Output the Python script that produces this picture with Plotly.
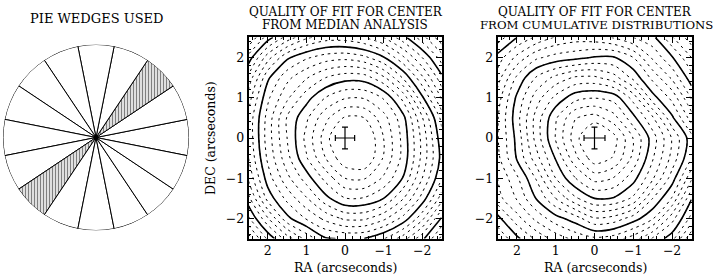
import plotly.graph_objects as go

# ---------------- data ----------------
# pie wedges (centre angle in degrees, counter-clockwise from east)
wedge_angles = [0, 22.5, 45, 67.5, 90, 112.5, 135, 157.5,
                180, 202.5, 225, 247.5, 270, 292.5, 315, 337.5]
wedge_used = [0, 0, 1, 0, 0, 0, 0, 0, 0, 0, 1, 0, 0, 0, 0, 0]
wedge_width = 22.5

# contour grids (RA runs left->right on the page, i.e. decreasing)
ra = [2.5, 2.0, 1.5, 1.0, 0.5, 0.0, -0.5, -1.0, -1.5, -2.0, -2.5]
dec = [-2.5, -2.0, -1.5, -1.0, -0.5, 0.0, 0.5, 1.0, 1.5, 2.0, 2.5]

z_median = [
    [18.5, 15.8, 13.5, 11.7, 10.1, 9.9, 10.0, 10.9, 12.5, 14.7, 17.3],
    [16.2, 13.1, 10.3, 8.9, 7.7, 6.8, 6.8, 7.75, 9.3, 11.7, 15.1],
    [14.3, 10.6, 8.7, 7.1, 5.3, 4.05, 4.1, 5.0, 6.9, 9.4, 12.5],
    [12.8, 9.5, 7.3, 5.5, 3.65, 2.0, 1.9, 3.15, 5.05, 8.0, 10.9],
    [12.0, 8.8, 6.35, 4.1, 2.0, 0.2, -0.04, 2.1, 4.3, 7.3, 10.3],
    [11.7, 8.5, 6.0, 3.7, 1.45, -0.85, -0.2, 2.0, 4.3, 7.3, 10.6],
    [11.7, 8.6, 5.9, 4.2, 2.25, 0.86, 1.0, 2.6, 4.64, 7.9, 11.3],
    [12.5, 9.2, 7.2, 5.4, 3.96, 3.1, 3.1, 4.1, 6.3, 9.8, 13.1],
    [13.7, 10.2, 8.3, 7.1, 6.0, 5.4, 5.5, 6.8, 9.1, 11.8, 14.7],
    [15.6, 12.4, 10.2, 9.15, 8.5, 8.3, 8.75, 9.9, 11.8, 14.0, 16.5],
    [18.0, 15.5, 13.6, 12.2, 11.5, 11.5, 12.0, 13.0, 14.6, 16.6, 18.7],
]

z_cumul = [
    [16.9, 15.25, 13.8, 12.6, 11.7, 11.2, 11.5, 12.5, 14.1, 15.6, 18.9],
    [15.35, 13.4, 11.7, 10.4, 9.5, 8.1, 8.4, 9.5, 10.9, 13.6, 16.4],
    [13.4, 11.9, 9.95, 8.0, 6.2, 5.0, 5.1, 6.2, 9.0, 11.1, 14.9],
    [13.0, 11.2, 8.9, 6.0, 4.05, 2.6, 3.05, 4.6, 6.85, 9.5, 12.8],
    [12.3, 9.9, 7.4, 4.9, 2.3, 0.35, 1.1, 3.3, 5.9, 8.35, 11.0],
    [12.1, 9.7, 6.6, 3.9, 1.45, -0.7, 0.6, 3.05, 5.5, 8.1, 10.6],
    [12.1, 9.4, 6.6, 4.15, 2.05, 1.55, 2.6, 4.7, 6.85, 9.8, 12.5],
    [12.5, 9.8, 7.5, 5.7, 4.4, 4.05, 4.4, 6.4, 9.6, 11.3, 14.1],
    [13.5, 10.8, 8.9, 7.7, 6.85, 6.8, 7.6, 9.3, 11.3, 13.2, 15.6],
    [14.6, 12.7, 11.2, 10.6, 10.3, 9.9, 9.9, 11.0, 13.2, 14.9, 17.0],
    [16.6, 15.0, 13.8, 12.9, 12.5, 12.6, 13.1, 14.0, 14.7, 16.9, 18.6],
]

# fitted centres with error bars
median_center = dict(ra=[0.0], dec=[0.0], err_ra=[0.25], err_dec=[0.27])
cumul_center = dict(ra=[0.0], dec=[0.0], err_ra=[0.27], err_dec=[0.27])

tick_vals = [2, 1, 0, -1, -2]

# ---------------- figure ----------------
FONT = "DejaVu Serif"
W, H = 713, 277
fig = go.Figure()

# pie of wedges
fig.add_trace(go.Barpolar(
    theta=wedge_angles, r=[1] * len(wedge_angles), width=[wedge_width] * len(wedge_angles),
    marker=dict(color="white", line=dict(color="black", width=1),
                pattern=dict(shape=["|" if u else "" for u in wedge_used],
                             fgcolor="black", bgcolor="white", size=3, solidity=0.5)),
    subplot="polar", showlegend=False, hoverinfo="skip"))
fig.add_trace(go.Scatterpolar(r=[0], theta=[0], mode="markers",
                              marker=dict(color="black", size=5),
                              subplot="polar", showlegend=False, hoverinfo="skip"))


def add_panel(z, center, xa, ya):
    fig.add_trace(go.Contour(
        x=ra, y=dec, z=z, xaxis=xa, yaxis=ya, showscale=False,
        contours=dict(coloring="none", start=1, end=19, size=1),
        line=dict(color="black", width=1, dash="2.5px,4px", smoothing=0.8),
        hoverinfo="skip"))
    fig.add_trace(go.Contour(
        x=ra, y=dec, z=z, xaxis=xa, yaxis=ya, showscale=False,
        contours=dict(coloring="none", start=5, end=15, size=5),
        line=dict(color="black", width=1.6, smoothing=0.8),
        hoverinfo="skip"))
    fig.add_trace(go.Scatter(
        x=center["ra"], y=center["dec"], xaxis=xa, yaxis=ya, mode="markers",
        marker=dict(size=1, color="rgba(0,0,0,0)"),
        error_x=dict(type="data", array=center["err_ra"], color="black", thickness=1.2, width=3),
        error_y=dict(type="data", array=center["err_dec"], color="black", thickness=1.2, width=3),
        showlegend=False, hoverinfo="skip"))


add_panel(z_median, median_center, "x", "y")
add_panel(z_cumul, cumul_center, "x2", "y2")

axis_common = dict(
    tickvals=tick_vals, ticks="inside", ticklen=6, tickwidth=1, tickcolor="black",
    mirror="allticks", showline=True, linewidth=1.6, linecolor="black",
    showgrid=False, zeroline=False, automargin=False,
    minor=dict(dtick=0.2, tick0=0, ticks="inside", ticklen=3, tickwidth=1, tickcolor="black"),
    tickfont=dict(family=FONT, size=12.5, color="black"),
)

y_dom = [1 - 238.6 / H, 1 - 37.4 / H]
fig.update_layout(
    width=W, height=H, margin=dict(l=0, r=0, t=0, b=0, autoexpand=False),
    paper_bgcolor="white", plot_bgcolor="white",
    font=dict(family=FONT, size=12, color="black"),
    polar=dict(domain=dict(x=[3 / W, 189 / W], y=[1 - 230.5 / H, 1 - 44.5 / H]),
               bgcolor="white", hole=0,
               radialaxis=dict(visible=False, range=[0, 1]),
               angularaxis=dict(visible=False, rotation=0, direction="counterclockwise")),
    xaxis=dict(axis_common, domain=[248.5 / W, 441.5 / W], range=[2.5, -2.5], anchor="y"),
    yaxis=dict(axis_common, domain=y_dom, range=[-2.5, 2.5], anchor="x"),
    xaxis2=dict(axis_common, domain=[497.5 / W, 691.5 / W], range=[2.5, -2.5], anchor="y2"),
    yaxis2=dict(axis_common, domain=y_dom, range=[-2.5, 2.5], anchor="x2"),
    showlegend=False,
)

texts = [
    (96, 18, "PIE WEDGES USED", 13, 0),
    (346, 12.5, "QUALITY OF FIT FOR CENTER", 12, 0),
    (345, 25, "FROM MEDIAN ANALYSIS", 12, 0),
    (595, 12.5, "QUALITY OF FIT FOR CENTER", 12, 0),
    (596, 25, "FROM CUMULATIVE DISTRIBUTIONS", 11.7, 0),
    (345, 267, "RA (arcseconds)", 12.5, 0),
    (595, 267, "RA (arcseconds)", 12.5, 0),
    (210, 138, "DEC (arcseconds)", 12.5, -90),
]
for x, y, t, s, ang in texts:
    fig.add_annotation(text=t, x=x / W, y=1 - y / H, xref="paper", yref="paper",
                       xanchor="center", yanchor="middle", showarrow=False, textangle=ang,
                       font=dict(family=FONT, size=s, color="black"))

# the page's default body margin would push the figure 8px away from the corner
fig.write_html("out.html", config={"displayModeBar": False},
               post_script="document.body.style.margin='0';document.body.style.padding='0';")
